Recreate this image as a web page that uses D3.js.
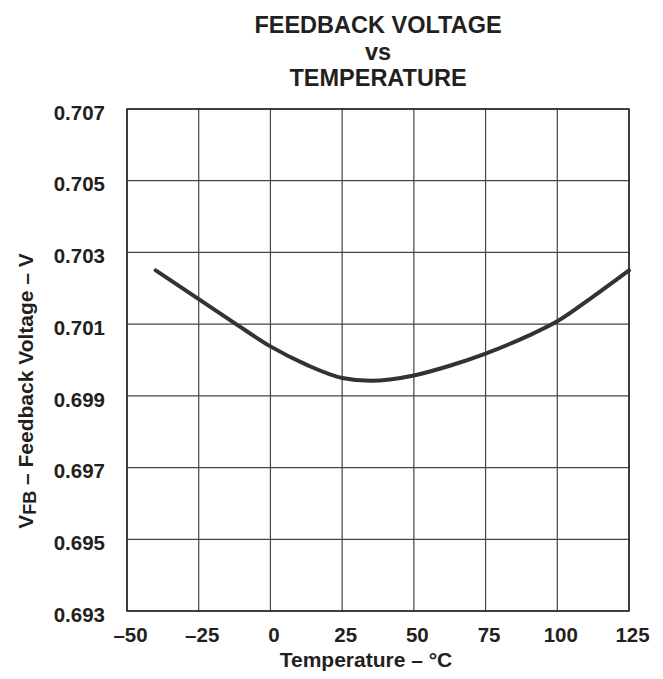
<!DOCTYPE html>
<html><head><meta charset="utf-8">
<script src="https://cdn.jsdelivr.net/npm/d3@7"></script>
<style>body{margin:0;background:#fff}svg{display:block}text{font-family:"Liberation Sans",Arial,sans-serif;font-weight:bold;fill:#231f20}</style>
</head><body>
<svg id="c" width="663" height="679"></svg>
<script>
const temps = [-40, -25, -12.5, 0, 12.5, 25, 35, 50, 62.5, 75, 90, 100, 112.5, 125];
const vfb = [0.7025, 0.7017, 0.70103, 0.70038, 0.69987, 0.6995, 0.69942, 0.69957, 0.69984, 0.70018, 0.70068, 0.70108, 0.70177, 0.7025];
const xTicks = [-50, -25, 0, 25, 50, 75, 100, 125];
const yTicks = [0.693, 0.695, 0.697, 0.699, 0.701, 0.703, 0.705, 0.707];
const titleLines = ["FEEDBACK VOLTAGE", "vs", "TEMPERATURE"];

const svg = d3.select("#c");
const L = 127, R = 629, T = 109, B = 611;
const x = d3.scaleLinear().domain([-50, 125]).range([L, R]);
const y = d3.scaleLinear().domain([0.693, 0.707]).range([B, T]);

const g = svg.append("g");
g.selectAll("line.vx").data(xTicks).enter().append("line")
  .attr("x1", d => x(d)).attr("x2", d => x(d)).attr("y1", T).attr("y2", B)
  .attr("stroke", "#444").attr("stroke-width", 1.2);
g.selectAll("line.hy").data(yTicks).enter().append("line")
  .attr("y1", d => y(d)).attr("y2", d => y(d)).attr("x1", L).attr("x2", R)
  .attr("stroke", "#444").attr("stroke-width", 1.2);
g.append("rect").attr("x", L).attr("y", T).attr("width", R - L).attr("height", B - T)
  .attr("fill", "none").attr("stroke", "#231f20").attr("stroke-width", 1.5);

const xAxis = d3.axisBottom(x).tickValues(xTicks).tickSize(0).tickPadding(0)
  .tickFormat(d => d < 0 ? "\u2013" + Math.abs(d) : String(d));
const xa = svg.append("g").attr("transform", `translate(0,${B})`).call(xAxis);
xa.select(".domain").remove();
xa.selectAll("text").attr("y", 31).attr("dy", 0).attr("dx", 3).style("font-size", "20.5px");

const yAxis = d3.axisLeft(y).tickValues(yTicks).tickSize(0).tickPadding(0)
  .tickFormat(d3.format(".3f"));
const ya = svg.append("g").attr("transform", `translate(${L},0)`).call(yAxis);
ya.select(".domain").remove();
ya.selectAll("text").attr("x", -22).attr("dy", "0.5em").style("font-size", "20.5px");

const line = d3.line().x((d, i) => x(temps[i])).y(d => y(d)).curve(d3.curveMonotoneX);
svg.append("path").datum(vfb).attr("d", line).attr("fill", "none")
  .attr("stroke", "#333").attr("stroke-width", 4).attr("stroke-linecap", "round");

svg.selectAll("text.title").data(titleLines).enter().append("text")
  .attr("x", (L + R) / 2).attr("y", (d, i) => 33 + i * 26.5)
  .attr("text-anchor", "middle").style("font-size", "23.5px").text(d => d);

svg.append("text").attr("x", 366).attr("y", 667).attr("text-anchor", "middle")
  .style("font-size", "21px").text("Temperature \u2013 \u00b0C");

const yl = svg.append("text").attr("transform", `translate(33,391) rotate(-90)`)
  .attr("text-anchor", "middle").style("font-size", "21px");
yl.append("tspan").text("V");
yl.append("tspan").attr("dy", 3).style("font-size", "18px").text("FB");
yl.append("tspan").attr("dy", -3).text(" \u2013 Feedback Voltage \u2013 V");
</script>
</body></html>
